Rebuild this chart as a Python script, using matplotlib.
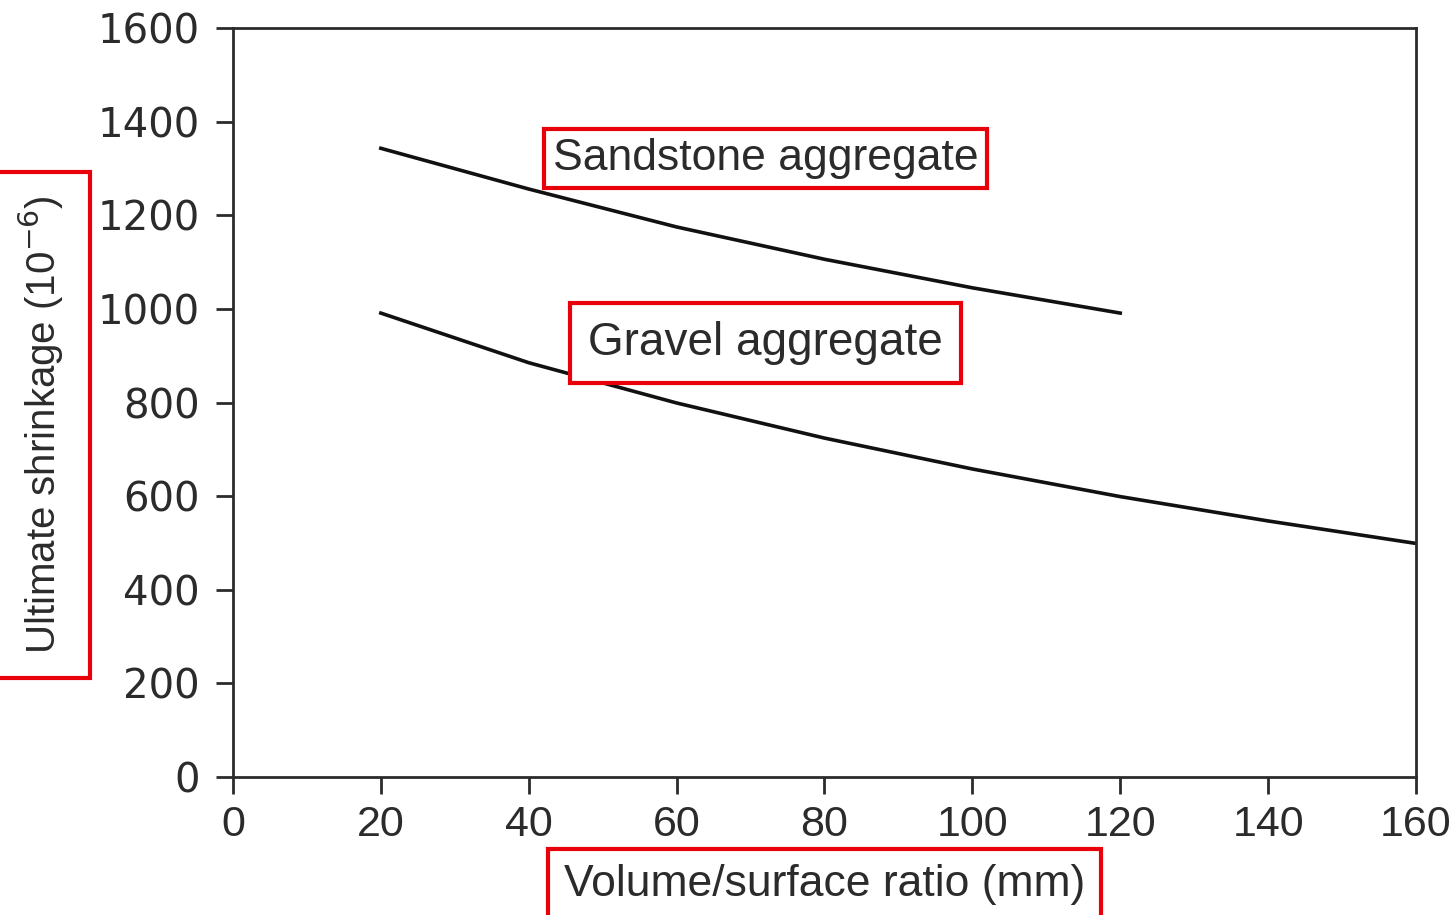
import matplotlib
matplotlib.use("Agg")
import matplotlib.pyplot as plt

# volume/surface ratio (mm) and ultimate shrinkage (1e-6)
sandstone_vs = [20, 40, 60, 80, 100, 120]
sandstone_shrinkage = [1343, 1256, 1175, 1106, 1045, 991]

gravel_vs = [20, 40, 60, 80, 100, 120, 140, 160]
gravel_shrinkage = [991, 885, 799, 724, 658, 599, 547, 499]

x_ticks = [0, 20, 40, 60, 80, 100, 120, 140, 160]
y_ticks = [0, 200, 400, 600, 800, 1000, 1200, 1400, 1600]

INK = "#2b2b2b"
RED = "#e8000b"

fig = plt.figure(figsize=(14.49, 9.15), dpi=100)
ax = fig.add_axes([0.1608, 0.1508, 0.8164, 0.8186])

ax.plot(sandstone_vs, sandstone_shrinkage, color="#111111", lw=2.6)
ax.plot(gravel_vs, gravel_shrinkage, color="#111111", lw=2.6)

ax.set_xlim(0, 160)
ax.set_ylim(0, 1600)
ax.set_xticks(x_ticks)
ax.set_yticks(y_ticks)

for side in ["left", "bottom", "top", "right"]:
    ax.spines[side].set_color(INK)
    ax.spines[side].set_linewidth(2)

ax.tick_params(axis="both", direction="out", length=12, width=2, color=INK)
ax.tick_params(axis="y", pad=12)
ax.tick_params(axis="x", pad=8)

for lab in ax.get_yticklabels():
    lab.set_fontfamily("DejaVu Sans")
    lab.set_fontsize(29)
    lab.set_color(INK)
for lab in ax.get_xticklabels():
    lab.set_fontfamily("Liberation Sans")
    lab.set_fontsize(31)
    lab.set_color(INK)

ax.set_xlabel("Volume/surface ratio (mm)", fontfamily="Liberation Sans",
              fontsize=32, color=INK, labelpad=14,
              bbox=dict(boxstyle="square,pad=0.35", facecolor="white",
                        edgecolor=RED, linewidth=3))
ax.set_ylabel("Ultimate shrinkage (10$^{-6}$)", fontfamily="Liberation Sans",
              fontsize=29, color=INK,
              bbox=dict(boxstyle="square,pad=0.6", facecolor="white",
                        edgecolor=RED, linewidth=3))
ax.yaxis.set_label_coords(-0.141, 0.47)

ax.text(72, 1322, "Sandstone aggregate", fontfamily="Liberation Sans",
        fontsize=32, color=INK, ha="center", va="center",
        bbox=dict(boxstyle="square,pad=0.2", facecolor="white",
                  edgecolor=RED, linewidth=3))
ax.text(72, 927, "Gravel aggregate", fontfamily="Liberation Sans",
        fontsize=33, color=INK, ha="center", va="center",
        bbox=dict(boxstyle="square,pad=0.4", facecolor="white",
                  edgecolor=RED, linewidth=3))

fig.savefig("out.png", dpi=100, facecolor="white")
